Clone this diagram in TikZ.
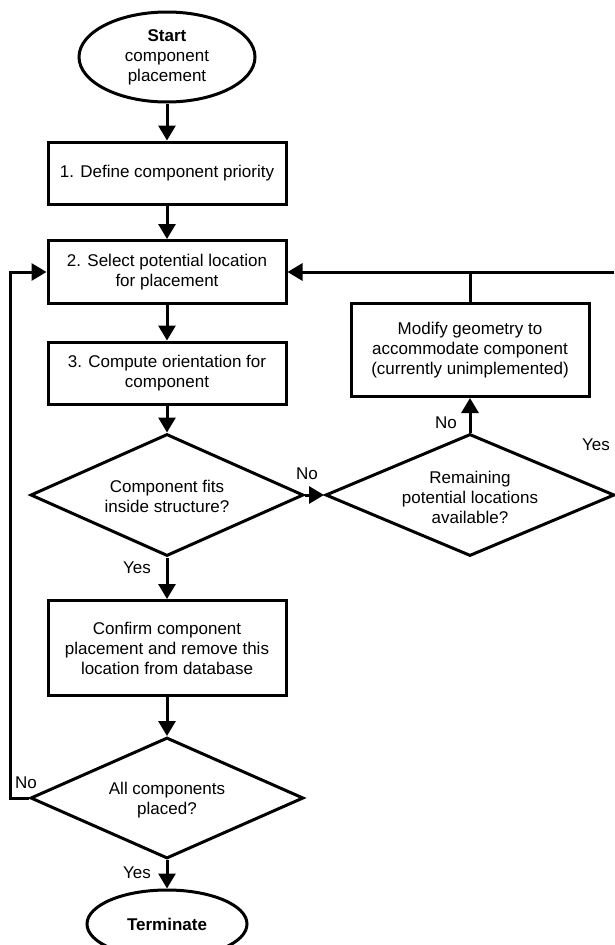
\documentclass[tikz,border=0pt]{standalone}
\usepackage{fontspec}
\setmainfont{Liberation Sans}
\usetikzlibrary{shapes.geometric,arrows.meta}
\begin{document}
\begin{tikzpicture}[x=1pt,y=-1pt,
  every node/.style={font=\fontsize{17}{20}\selectfont},
  box/.style={draw,line width=3pt,rectangle,minimum width=238pt,align=center,inner sep=0pt},
  dec/.style={draw,line width=3pt,diamond,inner sep=0pt},
  term/.style={draw,line width=3pt,ellipse,inner sep=0pt,align=center},
  txt/.style={inner sep=0pt,align=center},
  conn/.style={line width=3pt,-{Triangle[length=15pt,width=17pt]}},
  plain/.style={line width=3pt},
  lbl/.style={inner sep=0pt}]
\useasboundingbox (0,0) rectangle (614,945);
\node[term, minimum width=176pt, minimum height=90pt] (start) at (167,57) {\textbf{Start}\\component\\placement};
\node[box, minimum height=62pt] (b1) at (167,173) {1. Define component priority};
\node[box, minimum height=63pt] (b2) at (167,272) {2. Select potential location\\for placement};
\node[box, minimum height=62pt] (b3) at (167,373) {3. Compute orientation for\\component};
\node[dec, minimum width=273pt, minimum height=122pt] (d1) at (167,495) {};
\node[txt] (d1t) at (167,496) {Component fits\\inside structure?};
\node[dec, minimum width=289pt, minimum height=122pt] (d2) at (470,495) {};
\node[txt] (d2t) at (470,497) {Remaining\\potential locations\\available?};
\node[box, minimum height=93pt] (mod) at (470,350) {Modify geometry to\\accommodate component\\(currently unimplemented)};
\node[box, minimum height=95pt] (conf) at (167,648) {Confirm component\\placement and remove this\\location from database};
\node[dec, minimum width=273pt, minimum height=121pt] (d3) at (167,798) {};
\node[txt] (d3t) at (167,800) {All components\\placed?};
\node[term, minimum width=160pt, minimum height=68pt] (end) at (167,924) {\textbf{Terminate}};

\draw[conn] (start.south) -- (b1.north);
\draw[conn] (b1.south) -- (b2.north);
\draw[conn] (b2.south) -- (b3.north);
\draw[conn] (b3.south) -- (d1.north);
\draw[conn] (d1.south) -- (conf.north);
\draw[conn] (conf.south) -- (d3.north);
\draw[conn] (d3.south) -- (end.north);
\draw[conn] (d1.east) -- (d2.west);
\draw[conn] (d2.north) -- (mod.south);
\coordinate (rj) at (614,272);
\draw[conn] (rj) -- (b2.east);
\draw[plain] (mod.north) -- (mod.north |- b2.east);
\coordinate (lj) at (10,272);
\draw[conn] (d3.west) -- (d3.west -| lj) -- (lj) -- (b2.west);

\node[lbl] (n1) at (307,474) {No};
\node[lbl] (n2) at (446,423) {No};
\node[lbl] (y2) at (596,445) {Yes};
\node[lbl] (y1) at (137,568) {Yes};
\node[lbl] (n3) at (26,783) {No};
\node[lbl] (y3) at (137,873) {Yes};
\end{tikzpicture}
\end{document}
